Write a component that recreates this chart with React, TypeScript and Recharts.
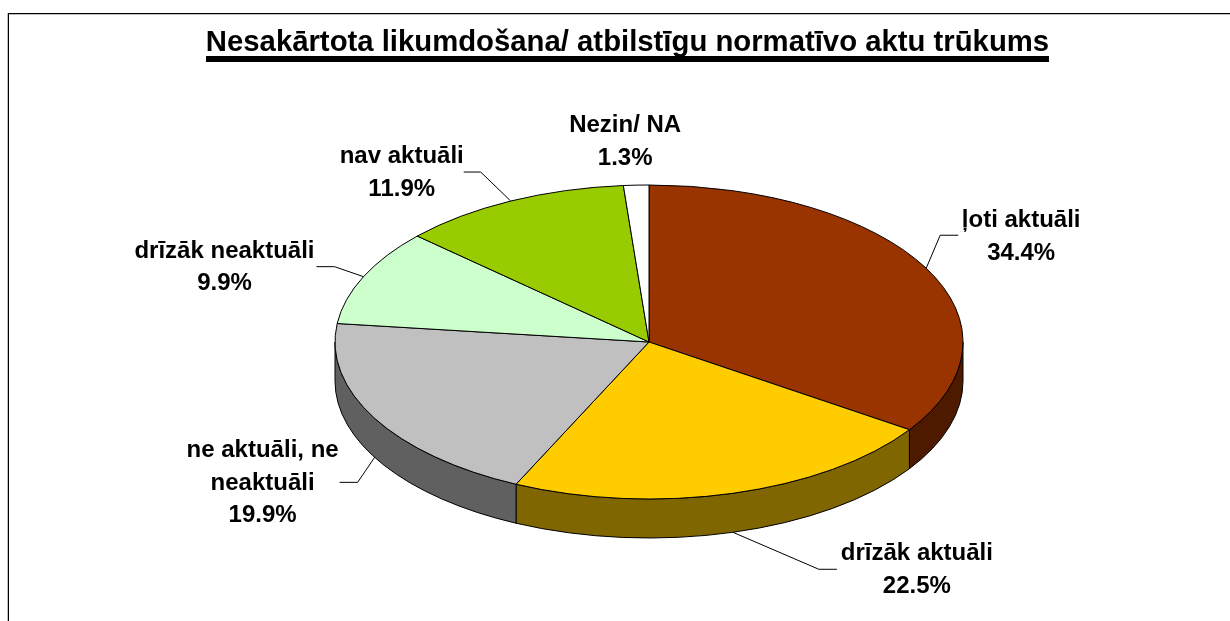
import { Pie, PieChart } from "recharts";

const categories = [
  "ļoti aktuāli",
  "drīzāk aktuāli",
  "ne aktuāli, ne\nneaktuāli",
  "drīzāk neaktuāli",
  "nav aktuāli",
  "Nezin/ NA",
];
const shares = [34.4, 22.5, 19.9, 9.9, 11.9, 1.3];
const topColors = ["#993300", "#FFCC00", "#C0C0C0", "#CCFFCC", "#99CC00", "#FFFFFF"];
const wallColors = ["#4D1A00", "#806600", "#606060", "#668066", "#4D6600", "#808080"];

const TITLE = "Nesakārtota likumdošana/ atbilstīgu normatīvo aktu trūkums";
const FONT = '"Liberation Sans", Arial, sans-serif';

// label placement relative to the point on the rim, px
const callouts = [
  { elbowX: 14, elbowY: -33, endX: 32, textX: 95, textY: -41 },
  { elbowX: 86, elbowY: 37, endX: 104, textX: 184, textY: 28 },
  { elbowX: -17, elbowY: 25, endX: -35, textX: -112, textY: 0 },
  { elbowX: -29, elbowY: -10, endX: -47, textX: -139, textY: -19 },
  { elbowX: -30, elbowY: -29, endX: -47, textX: -109, textY: -38 },
  { textX: -11, textY: -53 },
];

const SQUASH = 0.5;
const DEPTH = 39;
const LINE_HEIGHT = 32.5;

const topRows = categories.map((name, i) => ({ name, value: shares[i], fill: topColors[i] }));
const wallRows = categories.map((name, i) => ({ name, value: shares[i], fill: wallColors[i] }));

function rim(cx: number, cy: number, r: number, deg: number) {
  const a = (deg * Math.PI) / 180;
  return { x: cx + r * Math.cos(a), y: cy - r * SQUASH * Math.sin(a) };
}

function TopSlice({ cx, cy, outerRadius, startAngle, endAngle, fill }: any) {
  const p1 = rim(cx, cy, outerRadius, startAngle);
  const p2 = rim(cx, cy, outerRadius, endAngle);
  const large = Math.abs(startAngle - endAngle) > 180 ? 1 : 0;
  const d = `M${cx},${cy} L${p1.x},${p1.y} A${outerRadius},${outerRadius * SQUASH} 0 ${large} 1 ${p2.x},${p2.y} Z`;
  return <path d={d} fill={fill} stroke="#000" strokeWidth={1} strokeLinejoin="round" />;
}

// only the front half of the rim has a visible side
function WallSlice({ cx, cy, outerRadius, startAngle, endAngle, fill }: any) {
  const from = Math.min(startAngle, 0);
  const to = Math.max(endAngle, -180);
  if (from <= to) return <g />;
  const p1 = rim(cx, cy, outerRadius, from);
  const p2 = rim(cx, cy, outerRadius, to);
  const rx = outerRadius;
  const ry = outerRadius * SQUASH;
  const d =
    `M${p1.x},${p1.y} A${rx},${ry} 0 0 1 ${p2.x},${p2.y} ` +
    `L${p2.x},${p2.y + DEPTH} A${rx},${ry} 0 0 0 ${p1.x},${p1.y + DEPTH} Z`;
  return <path d={d} fill={fill} stroke="#000" strokeWidth={1} strokeLinejoin="round" />;
}

function Callout({ cx, cy, outerRadius, midAngle, index }: any) {
  const spot = callouts[index];
  const edge = rim(cx, cy, outerRadius, midAngle);
  const sin = Math.sin((midAngle * Math.PI) / 180);
  const ax = edge.x;
  const ay = sin < 0 ? edge.y + DEPTH : edge.y;
  const lines = [...categories[index].split("\n"), `${shares[index].toFixed(1)}%`];
  return (
    <g>
      {spot.endX !== undefined && (
        <polyline
          points={`${ax},${ay} ${ax + spot.elbowX},${ay + spot.elbowY} ${ax + spot.endX},${ay + spot.elbowY}`}
          fill="none"
          stroke="#000"
          strokeWidth={1}
        />
      )}
      <text
        textAnchor="middle"
        fontFamily={FONT}
        fontWeight="bold"
        fontSize={24}
        fill="#000"
      >
        {lines.map((line, i) => (
          <tspan key={i} x={ax + spot.textX} y={ay + spot.textY + i * LINE_HEIGHT}>
            {line}
          </tspan>
        ))}
      </text>
    </g>
  );
}

export default function App() {
  return (
    <div style={{ position: "relative", width: 1222, height: 613, overflow: "hidden" }}>
      {/* frame runs off the right and bottom of the page */}
      <div
        style={{
          position: "fixed",
          left: 8,
          top: 13,
          right: 0,
          bottom: 0,
          borderTop: "1px solid #000",
          borderLeft: "1px solid #000",
          boxShadow: "inset 0 1px 0 #C0C0C0, -1px 0 0 #C0C0C0",
        }}
      />
      <PieChart
        width={1222}
        height={613}
        margin={{ top: 0, right: 0, bottom: 0, left: 0 }}
        style={{ position: "absolute", left: 0, top: 0 }}
      >
        <text
          x={619.5}
          y={43}
          textAnchor="middle"
          fontFamily={FONT}
          fontWeight="bold"
          fontSize={29.3}
          fill="#000"
        >
          {TITLE}
        </text>
        <rect x={198} y={48} width={843} height={6} fill="#000" />
        <Pie
          data={wallRows}
          dataKey="value"
          nameKey="name"
          cx={641}
          cy={334}
          outerRadius={314}
          startAngle={90}
          endAngle={-270}
          shape={WallSlice}
          isAnimationActive={false}
        />
        <Pie
          data={topRows}
          dataKey="value"
          nameKey="name"
          cx={641}
          cy={334}
          outerRadius={314}
          startAngle={90}
          endAngle={-270}
          shape={TopSlice}
          label={Callout}
          labelLine={false}
          isAnimationActive={false}
        />
      </PieChart>
    </div>
  );
}
